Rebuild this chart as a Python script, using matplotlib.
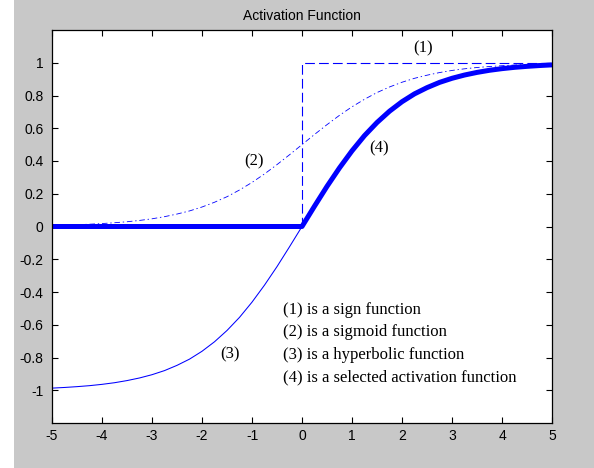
import matplotlib
matplotlib.use('Agg')
import matplotlib.pyplot as plt
from matplotlib.patches import Rectangle

# values, x from -5 to 5 in steps of 0.25
x = [i * 0.25 - 5 for i in range(41)]

sigmoid = [0.007, 0.009, 0.011, 0.014, 0.018, 0.023, 0.029, 0.037, 0.047, 0.060,
           0.076, 0.095, 0.119, 0.148, 0.182, 0.223, 0.269, 0.321, 0.378, 0.438,
           0.500,
           0.562, 0.622, 0.679, 0.731, 0.777, 0.818, 0.852, 0.881, 0.905, 0.924,
           0.940, 0.953, 0.963, 0.971, 0.977, 0.982, 0.986, 0.989, 0.991, 0.993]

hyperbolic = [-0.987, -0.983, -0.978, -0.972, -0.964, -0.954, -0.941, -0.925, -0.905, -0.880,
              -0.848, -0.810, -0.762, -0.704, -0.635, -0.555, -0.462, -0.358, -0.245, -0.124,
              0.000,
              0.124, 0.245, 0.358, 0.462, 0.555, 0.635, 0.704, 0.762, 0.810, 0.848,
              0.880, 0.905, 0.925, 0.941, 0.954, 0.964, 0.972, 0.978, 0.983, 0.987]

selected = [0.0] * 20 + hyperbolic[20:]

sign_x = [-5, 0, 0, 5]
sign_y = [0, 0, 1, 1]

labels = ['(1)', '(2)', '(3)', '(4)']
label_x = [2.42, -0.96, -1.44, 1.54]
label_y = [1.09, 0.40, -0.78, 0.48]

notes = ['(1) is a sign function',
         '(2) is a sigmoid function',
         '(3) is a hyperbolic function',
         '(4) is a selected activation function']

plt.rcParams['lines.scale_dashes'] = False
plt.rcParams['axes.unicode_minus'] = False

fig = plt.figure(figsize=(5.94, 4.68), dpi=100, facecolor='#c8c8c8')
fig.patches.append(Rectangle((0, 0), 14 / 594, 1, transform=fig.transFigure,
                             facecolor='white', edgecolor='none'))
ax = fig.add_axes([52 / 594, 45 / 468, 500 / 594, 393 / 468])

blue = '#0000ff'
ax.plot(sign_x, sign_y, color=blue, lw=0.8, dashes=(7, 3))
ax.plot(x, sigmoid, color=blue, lw=0.6, dashes=(4, 2, 1, 2))
ax.plot(x, hyperbolic, color=blue, lw=0.75)
ax.plot(x, selected, color=blue, lw=3.6, solid_capstyle='butt')

for t, tx, ty in zip(labels, label_x, label_y):
    ax.text(tx, ty, t, family='Liberation Serif', fontsize=12, ha='center', va='center')

for i, t in enumerate(notes):
    ax.text(-0.38, -0.51 - i * 0.137, t, family='Liberation Serif', fontsize=12,
            ha='left', va='center')

ax.set_xlim(-5, 5)
ax.set_ylim(-1.2, 1.2)
ax.set_xticks(range(-5, 6))
ax.set_yticks([-1, -0.8, -0.6, -0.4, -0.2, 0, 0.2, 0.4, 0.6, 0.8, 1])
ax.set_yticklabels(['-1', '-0.8', '-0.6', '-0.4', '-0.2', '0', '0.2', '0.4', '0.6', '0.8', '1'])
ax.tick_params(direction='in', length=4, width=0.8, top=True, right=True,
               labelsize=10, colors='black')
ax.tick_params(axis='y', pad=6)
ax.tick_params(axis='x', pad=4)
for lab in ax.get_xticklabels() + ax.get_yticklabels():
    lab.set_family('Liberation Sans')
for s in ax.spines.values():
    s.set_linewidth(0.9)

ax.set_title('Activation Function', family='Liberation Sans', fontsize=10, pad=7)

fig.savefig('out.png', dpi=100, facecolor=fig.get_facecolor())
